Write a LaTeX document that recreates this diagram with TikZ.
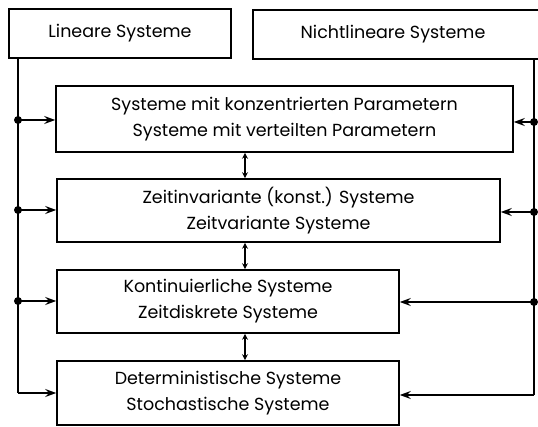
\documentclass[tikz,border=0pt]{standalone}
\usepackage{fontspec}
\setmainfont{Poppins}
\usetikzlibrary{arrows.meta}
\begin{document}
\begin{tikzpicture}[x=1pt,y=-1pt,
  box/.style={draw, line width=1.6pt, inner sep=0pt, align=center, font=\fontsize{17.5}{26}\selectfont},
  conn/.style={line width=1.5pt},
  arr/.style={line width=1.5pt, -{Stealth[length=11pt,width=8pt,inset=4pt]}},
  darr/.style={line width=1.3pt, {Stealth[length=6pt,width=6pt,inset=2pt]}-{Stealth[length=6pt,width=6pt,inset=2pt]}},
  dot/.style={circle, fill, inner sep=0pt, minimum size=8pt}]
\useasboundingbox (0,0) rectangle (538,427);
\clip (0,0) rectangle (538,427);
\node[box, minimum width=222pt, minimum height=49pt] (lin) at (120,33.5) {Lineare Systeme};
\node[box, minimum width=288pt, minimum height=49pt] (nlin) at (397,34.5) {\hspace*{-8pt}Nichtlineare Systeme};
\node[box, minimum width=457pt, minimum height=66pt] (b1) at (284.5,119) {Systeme mit konzentrierten Parametern\\Systeme mit verteilten Parametern};
\node[box, minimum width=443pt, minimum height=63pt] (b2) at (278.5,210.5) {Zeitinvariante (konst.) Systeme\\Zeitvariante Systeme};
\node[box, minimum width=342pt, minimum height=63pt] (b3) at (228,301.5) {Kontinuierliche Systeme\\Zeitdiskrete Systeme};
\node[box, minimum width=342pt, minimum height=64pt] (b4) at (228,393) {Deterministische Systeme\\Stochastische Systeme};
% left bus
\coordinate (lt) at (18,58);
\node[dot] (l1) at (18,120) {};
\node[dot] (l2) at (18,210) {};
\node[dot] (l3) at (18,301) {};
\coordinate (l4) at (18,393);
\draw[conn] (lin.south -| lt) -- (l4);
\draw[arr] (l1.center) -- (l1 -| b1.west);
\draw[arr] (l2.center) -- (l2 -| b2.west);
\draw[arr] (l3.center) -- (l3 -| b3.west);
\draw[arr] (l4) -- (l4 -| b4.west);
% right bus
\coordinate (rt) at (534,59);
\node[dot] (r1) at (534,122) {};
\node[dot] (r2) at (534,212) {};
\node[dot] (r3) at (534,302) {};
\coordinate (r4) at (534,395);
\draw[conn] (nlin.south -| rt) -- (r4);
\draw[arr] (r1.center) -- (r1 -| b1.east);
\draw[arr] (r2.center) -- (r2 -| b2.east);
\draw[arr] (r3.center) -- (r3 -| b3.east);
\draw[arr] (r4) -- (r4 -| b4.east);
% double arrows
\coordinate (dx) at (245,0);
\draw[darr] (b1.south -| dx) -- (b2.north -| dx);
\draw[darr] (b2.south -| dx) -- (b3.north -| dx);
\draw[darr] (b3.south -| dx) -- (b4.north -| dx);
\end{tikzpicture}
\end{document}
